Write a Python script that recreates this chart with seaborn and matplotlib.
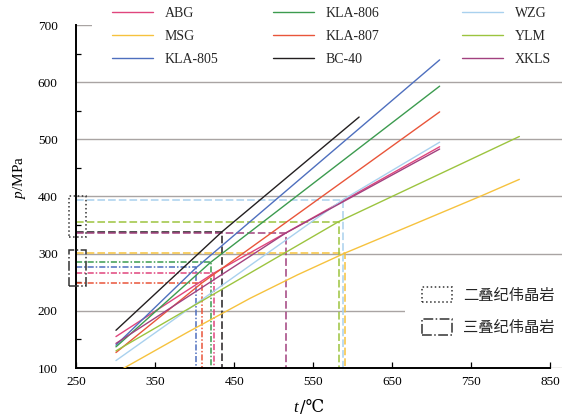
import matplotlib
matplotlib.use('Agg')
import matplotlib.pyplot as plt
from matplotlib.lines import Line2D
from matplotlib.patches import Rectangle, Patch
from matplotlib.ticker import MultipleLocator
import pandas as pd
import seaborn as sns

# samples, legend order (three columns of three)
samples = ['ABG', 'MSG', 'KLA-805', 'KLA-806', 'KLA-807', 'BC-40', 'WZG', 'YLM', 'XKLS']
colors = ['#E0457D', '#F6C23E', '#4E6FBE', '#3C9B4F', '#E9553A', '#231F20', '#A9D1EE', '#9CC43F', '#A2417F']

# P-T curves (t in deg C, p in MPa)
abg_t, abg_p = [300, 424, 710], [155, 266, 487]
msg_t, msg_p = [300, 390, 470, 530, 590, 680, 761, 811], [92, 162, 222, 263, 301, 353, 400, 430]
kla805_t, kla805_p = [300, 402, 710], [140, 276, 639]
kla806_t, kla806_p = [300, 420, 710], [137, 285, 593]
kla807_t, kla807_p = [300, 409, 710], [127, 249, 548]
bc40_t, bc40_p = [300, 434, 608], [166, 338, 539]
wzg_t, wzg_p = [300, 587, 710], [113, 394, 495]
ylm_t, ylm_p = [300, 582, 811], [130, 356, 505]
xkls_t, xkls_p = [300, 515, 710], [143, 336, 483]

# homogenisation points marked with guide lines
point_t = [424, 590, 402, 420, 409, 434, 587, 582, 515]
point_p = [266, 301, 276, 285, 249, 338, 394, 356, 336]
guide_dash = ['-.', '--', '-.', '-.', '-.', '--', '--', '--', '--']

# pegmatite groups (boxes at the p axis)
permian = ['BC-40', 'WZG', 'YLM', 'XKLS']
triassic = ['ABG', 'MSG', 'KLA-805', 'KLA-806', 'KLA-807']
group_labels = ['二叠纪伟晶岩', '三叠纪伟晶岩']

curve_t = [abg_t, msg_t, kla805_t, kla806_t, kla807_t, bc40_t, wzg_t, ylm_t, xkls_t]
curve_p = [abg_p, msg_p, kla805_p, kla806_p, kla807_p, bc40_p, wzg_p, ylm_p, xkls_p]
curves = pd.concat([pd.DataFrame({'sample': s, 't': t, 'p': p})
                    for s, t, p in zip(samples, curve_t, curve_p)], ignore_index=True)
palette = dict(zip(samples, colors))

sns.set_theme(style='ticks')
plt.rcParams['font.family'] = ['Liberation Serif', 'DejaVu Serif', 'Noto Sans CJK SC']
plt.rcParams['mathtext.fontset'] = 'custom'
plt.rcParams['mathtext.rm'] = 'Liberation Serif'
plt.rcParams['mathtext.it'] = 'Liberation Serif:italic'

W, H = 574, 419
fig = plt.figure(figsize=(W / 100, H / 100), dpi=100)
ax = fig.add_axes([76.5 / W, 1 - 368 / H, (562 - 76.5) / W, (368 - 25) / H])

sns.lineplot(data=curves, x='t', y='p', hue='sample', palette=palette, sort=False,
             estimator=None, lw=1.0, legend=False, ax=ax, zorder=3)

dash_map = {'--': (5, 2), '-.': (4, 1.3, 1, 1.3)}
for t, p, c, d in zip(point_t, point_p, colors, guide_dash):
    ax.plot([250, t, t], [p, p, 100], color=c, lw=1.1, dashes=dash_map[d], zorder=2)

# group boxes straddling the p axis
pad = 6
for members, ls in [(permian, ':'), (triassic, '-.')]:
    ps = [point_p[samples.index(s)] for s in members]
    lo, hi = min(ps) - pad, max(ps) + pad
    ax.add_patch(Rectangle((240, lo), 22, hi - lo, fill=False, ec='#333333', lw=1.1,
                           ls=ls, clip_on=False, zorder=4))

ax.set_xlim(250, 865)
ax.set_ylim(100, 700)
ax.set_xticks(range(250, 851, 100))
ax.set_yticks(range(100, 701, 100))
ax.yaxis.set_minor_locator(MultipleLocator(50))
ax.yaxis.grid(True, which='major', color='#A9A4A3', lw=1.0)
ax.set_axisbelow(True)

# white strip behind the top legend hides the 700 grid line
ax.add_patch(Rectangle((0.032, 0.95), 0.98, 0.08, transform=ax.transAxes,
                       fc='white', ec='none', zorder=1, clip_on=False))

for side in ['top', 'right']:
    ax.spines[side].set_visible(False)
for side in ['left', 'bottom']:
    ax.spines[side].set_color('black')
    ax.spines[side].set_linewidth(1.4)
ax.spines['bottom'].set_bounds(250, 850)

ax.tick_params(axis='x', direction='in', length=4, width=0.9, color='black',
               pad=6, labelsize=9.5, labelcolor='black')
ax.tick_params(axis='y', which='major', length=0, pad=13.5, labelsize=9.5,
               labelcolor='black')
ax.tick_params(axis='y', which='minor', direction='in', length=3.5, width=0.9,
               color='black', left=True)

# x label: italic t + "/℃" (seaborn's default 't' label removed)
ax.set_xlabel('')
fig.text(297.5 / W, 1 - 412 / H, 't', fontsize=12, style='italic', ha='right',
         va='baseline', color='black')
fig.text(299.5 / W, 1 - 412 / H, '/℃', fontsize=12, family=['DejaVu Serif'],
         ha='left', va='baseline', color='black')
ax.set_ylabel('$p$/MPa', fontsize=11, color='black')
ax.yaxis.set_label_coords(-0.100, 0.557)

# top legend: three separate columns
handles = [Line2D([], [], color=c, lw=1.0, label=s) for s, c in zip(samples, colors)]
col_x = [112, 273, 462]
for i, x in enumerate(col_x):
    leg = ax.legend(handles=handles[3 * i:3 * i + 3], loc='upper left',
                    bbox_to_anchor=(x / W, 1 - 7 / H), bbox_transform=fig.transFigure,
                    frameon=False, borderpad=0, borderaxespad=0, handlelength=2.95,
                    handletextpad=0.86, labelspacing=0.72, fontsize=10)
    ax.add_artist(leg)

group_handles = [Patch(fc='none', ec='#333333', lw=1.1, ls=':', label=group_labels[0]),
                 Patch(fc='none', ec='#333333', lw=1.1, ls='-.', label=group_labels[1])]
ax.legend(handles=group_handles, loc='upper left', bbox_to_anchor=(405 / W, 1 - 270 / H),
          bbox_transform=fig.transFigure, frameon=True, facecolor='white', edgecolor='none',
          framealpha=1, fancybox=False, borderpad=1.1, borderaxespad=0,
          handlelength=1.96, handleheight=1.18, handletextpad=0.72, labelspacing=1.02,
          prop={'family': 'Noto Sans CJK SC', 'size': 11})

fig.savefig('out.png', dpi=100)
